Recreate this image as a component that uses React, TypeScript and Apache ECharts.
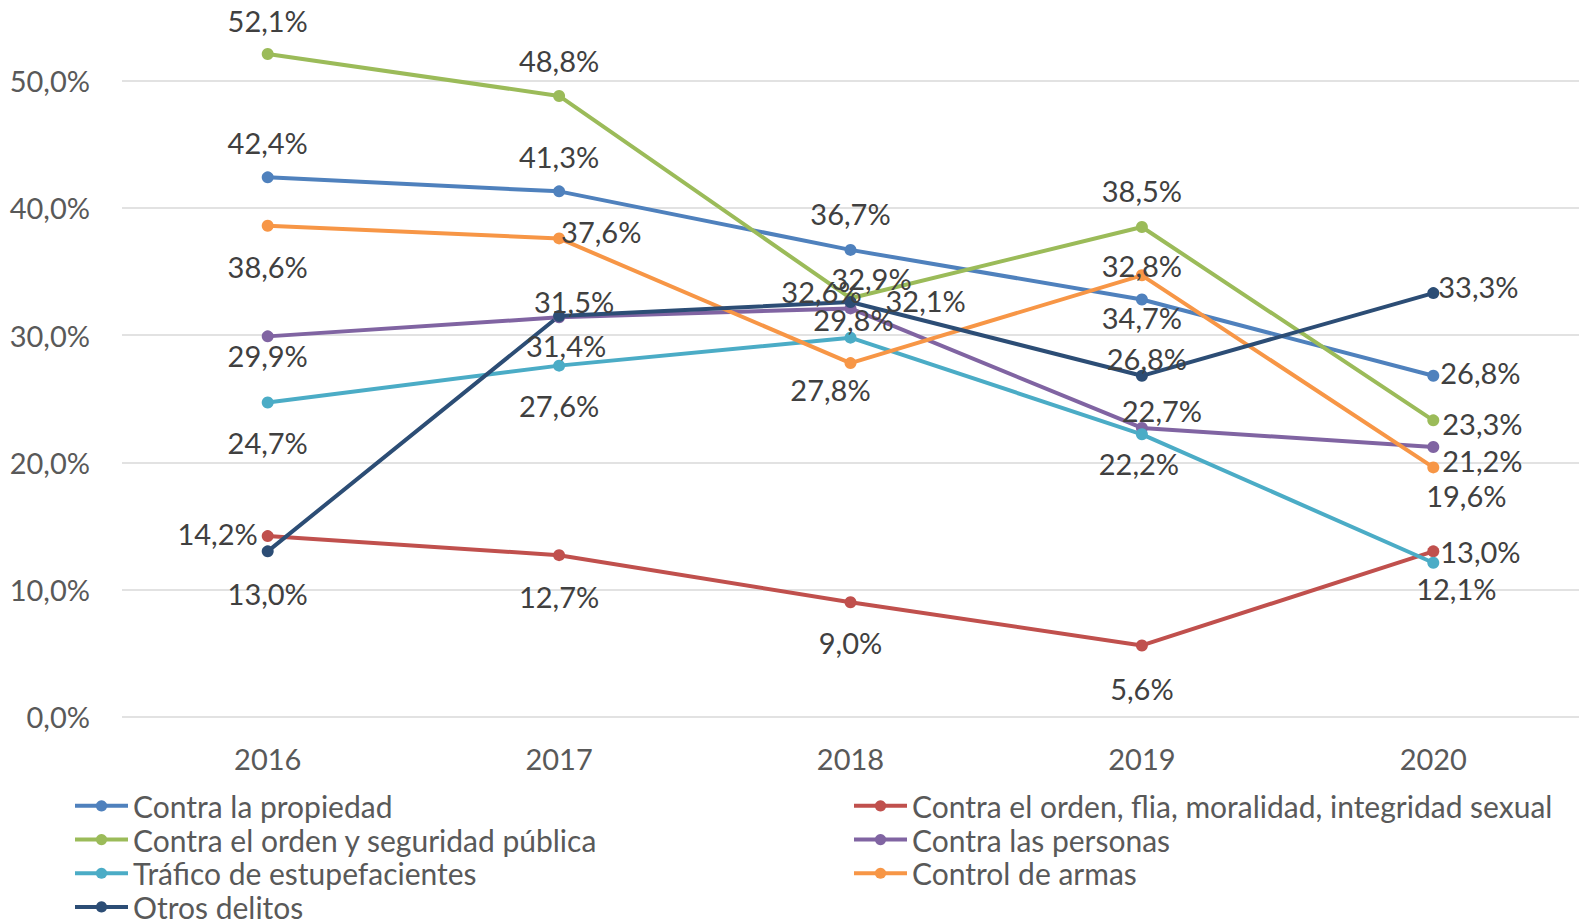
import React, { useEffect, useRef } from "react";
import * as echarts from "echarts";

const years = ["2016", "2017", "2018", "2019", "2020"];
const yTicks = { min: 0, max: 50, interval: 10 };

const seriesNames = [
  "Contra la propiedad",
  "Contra el orden, flia, moralidad, integridad sexual",
  "Contra el orden y seguridad pública",
  "Contra las personas",
  "Tráfico de estupefacientes",
  "Control de armas",
  "Otros delitos",
];

const propiedad = [42.4, 41.3, 36.7, 32.8, 26.8];
const ordenFlia = [14.2, 12.7, 9.0, 5.6, 13.0];
const ordenSeguridad = [52.1, 48.8, 32.9, 38.5, 23.3];
const personas = [29.9, 31.4, 32.1, 22.7, 21.2];
const trafico = [24.7, 27.6, 29.8, 22.2, 12.1];
const armas = [38.6, 37.6, 27.8, 34.7, 19.6];
const otros = [13.0, 31.5, 32.6, 26.8, 33.3];

// label texts shown in the source that differ from the plotted value
const labelOverrides: Record<number, Record<number, string>> = {
  0: { 3: "34,7%" },
  5: { 3: "32,8%" },
};

const colors = ["#4F81BD", "#C0504D", "#9BBB59", "#8064A2", "#4BACC6", "#F79646", "#2C4D75"];

// label placement (styling): ['c', dx, dy] centered offset, ['r', dy, dist], ['l', dy, dist]
const labelLayout: any[][] = [
  [["c", 0, -35], ["c", 0, -35], ["c", 0, -36], ["c", 0, 18], ["r", -3, 1]],
  [["l", -3, 4], ["c", 0, 41], ["c", 0, 40], ["c", 0, 43], ["r", 0, 1]],
  [["c", 0, -33], ["c", 0, -35], ["c", 21, -20], ["c", 0, -36], ["r", 3, 3]],
  [["c", 0, 19], ["c", 7, 28], ["r", -8, 29], ["c", 20, -17], ["r", 13, 3]],
  [["c", 0, 40], ["c", 0, 40], ["c", 3, -18], ["c", -3, 29], ["c", 23, 26]],
  [["c", 0, 41], ["r", -7, -4], ["c", -20, 26], ["c", 0, -10], ["c", 33, 28]],
  [["c", 0, 42], ["c", 15, -15], ["c", -29, -11], ["c", 5, -17], ["r", -7, -1]],
];

const allValues = [propiedad, ordenFlia, ordenSeguridad, personas, trafico, armas, otros];

const FONT = "Lato";
const FS = 29;
const fmt = (v: number) => v.toFixed(1).replace(".", ",") + "%";

export default function App() {
  const ref = useRef<HTMLDivElement>(null);
  useEffect(() => {
    document.body.style.margin = "0";
    if (!ref.current) return;
    const chart = echarts.init(ref.current, undefined, { renderer: "svg" });
    const series = allValues.map((vals, si) => ({
      name: seriesNames[si],
      type: "line",
      clip: false,
      symbol: "circle",
      symbolSize: 12,
      lineStyle: { width: 4, color: colors[si] },
      itemStyle: { color: colors[si] },
      data: vals.map((v, i) => {
        const spec = labelLayout[si][i];
        const text = (labelOverrides[si] && labelOverrides[si][i]) || fmt(v);
        let label: any;
        if (spec[0] === "c") {
          label = { position: "inside", offset: [spec[1], spec[2]] };
        } else {
          label = {
            position: spec[0] === "r" ? "right" : "left",
            distance: spec[2],
            offset: [0, spec[1]],
          };
        }
        label.formatter = text;
        return { value: v, label };
      }),
      label: {
        show: true,
        color: "#404040",
        fontFamily: FONT,
        fontSize: FS,
      },
    }));
    const legendCommon = {
      orient: "vertical",
      top: 789,
      height: 200,
      padding: 0,
      itemGap: 0,
      itemWidth: 53,
      itemHeight: 14,
      lineStyle: { width: 4 },
      textStyle: { color: "#595959", fontFamily: FONT, fontSize: 30, lineHeight: 33.7 },
    };
    chart.setOption({
      animation: false,
      color: colors,
      grid: { left: 122, right: 2, top: 80.7, bottom: 207.3, containLabel: false },
      xAxis: {
        type: "category",
        data: years,
        boundaryGap: true,
        axisLine: { show: false },
        axisTick: { show: false },
        axisLabel: { color: "#595959", fontFamily: FONT, fontSize: FS, margin: 27 },
      },
      yAxis: {
        type: "value",
        min: yTicks.min,
        max: yTicks.max,
        interval: yTicks.interval,
        axisLine: { show: false },
        axisTick: { show: false },
        axisLabel: {
          color: "#595959",
          fontFamily: FONT,
          fontSize: FS,
          margin: 32,
          formatter: (v: number) => fmt(v),
        },
        splitLine: { lineStyle: { color: "#D9D9D9", width: 1.5 } },
      },
      legend: [
        {
          ...legendCommon,
          left: 73,
          data: [seriesNames[0], seriesNames[2], seriesNames[4], seriesNames[6]],
        },
        {
          ...legendCommon,
          left: 852,
          data: [seriesNames[1], seriesNames[3], seriesNames[5]],
        },
      ],
      series,
    });
    return () => chart.dispose();
  }, []);
  return <div ref={ref} style={{ width: 1581, height: 924 }} />;
}
